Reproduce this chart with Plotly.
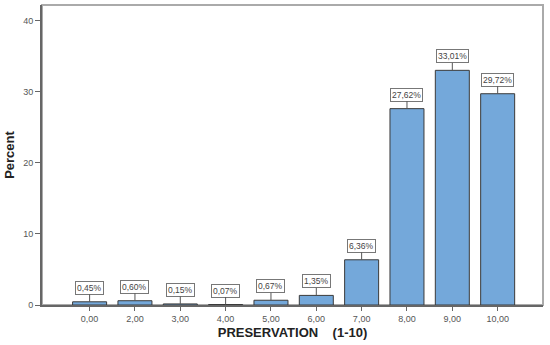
import plotly.graph_objects as go

categories = ["0,00", "2,00", "3,00", "4,00", "5,00", "6,00", "7,00", "8,00", "9,00", "10,00"]
values = [0.45, 0.60, 0.15, 0.07, 0.67, 1.35, 6.36, 27.62, 33.01, 29.72]
labels = ["0,45%", "0,60%", "0,15%", "0,07%", "0,67%", "1,35%", "6,36%", "27,62%", "33,01%", "29,72%"]
y_ticks = [0, 10, 20, 30, 40]

fig = go.Figure()
fig.add_trace(go.Bar(
    x=categories, y=values, width=0.75,
    marker=dict(color="#74a8da", line=dict(color="#3a3a3a", width=1)),
    hoverinfo="skip",
))

for c, v, t in zip(categories, values, labels):
    fig.add_annotation(
        x=c, y=v, text=t, showarrow=True, arrowhead=0, arrowwidth=1,
        arrowcolor="#555555", ax=0, ay=-14,
        bgcolor="white", bordercolor="#777777", borderwidth=1, borderpad=1,
        font=dict(family="Liberation Sans", size=8.5, color="#444444"),
    )

fig.add_shape(type="rect", xref="paper", yref="paper", x0=0, y0=0, x1=1, y1=1,
              line=dict(color="#aaaaaa", width=2), layer="below")

fig.update_layout(
    width=550, height=345,
    margin=dict(l=42, r=7, t=5, b=40),
    paper_bgcolor="white", plot_bgcolor="white",
    showlegend=False,
    font=dict(family="Liberation Sans", color="#555555", size=9),
    xaxis=dict(
        type="category", range=[-1.05, 10.0],
        showline=True, linecolor="#666666", linewidth=2,
        ticks="outside", ticklen=4, tickcolor="#666666",
        showgrid=False, zeroline=False,
        tickfont=dict(size=9, color="#555555"),
        title=dict(text="<b>PRESERVATION\u00a0\u00a0\u00a0\u00a0(1-10)</b>",
                   font=dict(size=13, color="#222222"), standoff=5),
    ),
    yaxis=dict(
        range=[0, 42.2], tickvals=y_ticks,
        showline=True, linecolor="#666666", linewidth=2,
        ticks="outside", ticklen=5, tickcolor="#666666",
        showgrid=False, zeroline=False,
        tickfont=dict(size=9, color="#555555"),
        title=dict(text="<b>Percent</b>", font=dict(size=13, color="#222222"), standoff=6),
    ),
)

fig.write_html("out.html", config={"displayModeBar": False},
               post_script="document.body.style.margin='0';")
